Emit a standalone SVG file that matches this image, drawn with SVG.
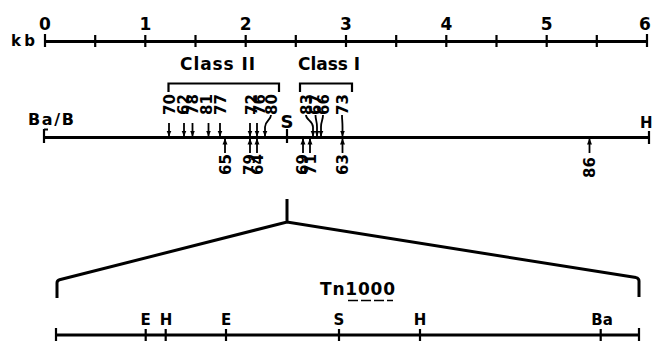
<svg xmlns="http://www.w3.org/2000/svg" width="653" height="341" viewBox="0 0 653 341">
<style>
text{font-family:"DejaVu Sans","Liberation Sans",sans-serif;font-weight:bold;fill:#000}
.ln{stroke:#000;stroke-width:3;fill:none}
.tk{stroke:#000;stroke-width:2.2;fill:none}
.ar{stroke:#000;stroke-width:1.8;fill:none;marker-end:url(#ah)}
.lab text{font-size:15px}
.sc{font-size:17px;text-anchor:middle}
.site{font-size:15px;text-anchor:middle}
</style>
<defs>
<marker id="ah" markerUnits="userSpaceOnUse" markerWidth="6" markerHeight="6" refX="5.5" refY="3" orient="auto">
<path d="M0,0.5 L6,3 L0,5.5 z" fill="#000"/>
</marker>
</defs>
<g id="scale">
<line class="ln" x1="45" y1="41.5" x2="647" y2="41.5"/>
<path class="tk" d="M45,34V47 M95.2,35V47 M145.3,35V47 M195.5,35V47 M245.7,35V47 M295.8,35V47 M346,35V47 M396.2,35V47 M446.3,35V47 M496.5,35V47 M546.7,35V47 M596.8,35V47 M647,34V47"/>
<text class="sc" x="45" y="30">0</text>
<text class="sc" x="145.3" y="30">1</text>
<text class="sc" x="245.7" y="30">2</text>
<text class="sc" x="346" y="30">3</text>
<text class="sc" x="446.3" y="30">4</text>
<text class="sc" x="546.7" y="30">5</text>
<text class="sc" x="645" y="30">6</text>
<text x="11" y="46" font-size="15" textLength="24">kb</text>
</g>
<g id="classII">
<text x="180" y="70" font-size="17" textLength="75" lengthAdjust="spacing">Class II</text>
<path class="tk" d="M168.5,92V83.5H279V92"/>
</g>
<g id="classI">
<text x="298" y="70" font-size="17" textLength="62" lengthAdjust="spacing">Class I</text>
<path class="tk" d="M300,92V83.5H352V92"/>
</g>
<g id="map">
<line class="ln" x1="44" y1="137.5" x2="649" y2="137.5"/>
<path class="tk" d="M44,129V143 M44,129.5H48 M649,131V144"/>
<text x="28" y="125" font-size="16" textLength="46" lengthAdjust="spacing">Ba/B</text>
<text x="640" y="128" font-size="15">H</text>
<text x="287" y="128" text-anchor="middle" style="font-size:18px">S</text>
<path class="tk" d="M287,129V143"/>
</g>
<g id="connectors">
<path class="ar" d="M169,123V136"/>
<path class="ar" d="M184,123V136"/>
<path class="ar" d="M192.5,123V136"/>
<path class="ar" d="M208.5,123V136"/>
<path class="ar" d="M220,123V136"/>
<path class="ar" d="M250,123V136"/>
<path class="ar" d="M257,123V136"/>
<path class="ar" d="M271,115C271,120 265,121 265,127V136"/>
<path class="ar" d="M306,115C306,120 313,121 313,127V136"/>
<path class="ar" d="M315.5,115C315.5,120 317,121 317,127V136"/>
<path class="ar" d="M323,115C323,120 321,121 321,127V136"/>
<path class="ar" d="M342,115C342,120 342.5,121 342.5,127V136"/>
<path class="ar" d="M225,153V139"/>
<path class="ar" d="M250,153V139"/>
<path class="ar" d="M257,153V139"/>
<path class="ar" d="M303,153V139"/>
<path class="ar" d="M310,153V139"/>
<path class="ar" d="M342.5,153V139"/>
<path class="ar" d="M589.5,153V139"/>
<path class="ln" d="M287,199V222 M57,298V283Q57,280.5 59.5,279.8L287,222L636,277.6Q639,278.2 639,281V297"/>
</g>
<g id="labels-above" class="lab">
<text transform="translate(174.5,115) rotate(-90)">70</text>
<text transform="translate(188.5,115) rotate(-90)">62</text>
<text transform="translate(198,115) rotate(-90)">78</text>
<text transform="translate(211.5,115) rotate(-90)">81</text>
<text transform="translate(225.5,115) rotate(-90)">77</text>
<text transform="translate(256.5,115) rotate(-90)">72</text>
<text transform="translate(264.5,115) rotate(-90)">76</text>
<text transform="translate(277,115) rotate(-90)">80</text>
<text transform="translate(312,115) rotate(-90)">83</text>
<text transform="translate(320.5,115) rotate(-90)">67</text>
<text transform="translate(329,115) rotate(-90)">66</text>
<text transform="translate(347.5,115) rotate(-90)">73</text>
</g>
<g id="labels-below" class="lab">
<text transform="translate(230.5,175) rotate(-90)">65</text>
<text transform="translate(254.5,175) rotate(-90)">79</text>
<text transform="translate(262.5,175) rotate(-90)">64</text>
<text transform="translate(308,175) rotate(-90)">69</text>
<text transform="translate(316,175) rotate(-90)">71</text>
<text transform="translate(348,175) rotate(-90)">63</text>
<text transform="translate(595,178) rotate(-90)">86</text>
</g>
<g id="tn1000">
<text x="320" y="295" font-size="17" textLength="75" lengthAdjust="spacing">Tn1000</text>
<line x1="348" y1="300.5" x2="393" y2="300.5" stroke="#000" stroke-width="1.5" stroke-dasharray="10 3"/>
<line class="ln" x1="56" y1="335" x2="639" y2="335"/>
<path class="tk" d="M56,328V341 M145.7,329V341 M165.7,329V341 M226,329V341 M339,329V341 M420,329V341 M600.7,329V341 M639,328V341"/>
<text class="site" x="145.5" y="325">E</text>
<text class="site" x="166" y="325">H</text>
<text class="site" x="226" y="325">E</text>
<text class="site" x="339" y="325">S</text>
<text class="site" x="420" y="325">H</text>
<text class="site" x="602" y="325">Ba</text>
</g>
</svg>
